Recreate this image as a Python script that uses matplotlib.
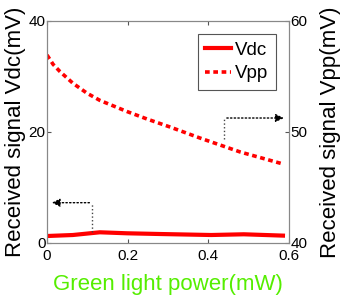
import matplotlib
matplotlib.use('Agg')
import matplotlib.pyplot as plt

plt.rcParams['font.family'] = ['Liberation Sans', 'DejaVu Sans']

# Vdc on left axis (mV)
power_dc = [0.0, 0.064, 0.131, 0.198, 0.280, 0.407, 0.488, 0.585]
vdc = [1.26, 1.44, 1.93, 1.75, 1.62, 1.44, 1.57, 1.33]

# Vpp on right axis (mV)
power_pp = [0.0, 0.015, 0.032, 0.064, 0.099, 0.131, 0.198, 0.248, 0.305, 0.379, 0.479, 0.585]
vpp = [56.94, 56.1, 55.45, 54.4, 53.5, 52.85, 51.85, 51.17, 50.45, 49.46, 48.20, 47.12]

xticks = [0, 0.2, 0.4, 0.6]
xticklabels = ['0', '0.2', '0.4', '0.6']
left_ticks = [0, 20, 40]
right_ticks = [40, 50, 60]

fig = plt.figure(figsize=(3.41, 3.06), dpi=100)
ax = fig.add_axes([47/341, 1 - 243/306, 242/341, 222/306])
ax2 = ax.twinx()

l1, = ax.plot(power_dc, vdc, color='red', lw=3, label='Vdc')
l2, = ax2.plot(power_pp, vpp, color='red', lw=2.6, ls=(0, (1.3, 1.0)), label='Vpp')

ax.set_xlim(0, 0.6)
ax.set_ylim(0, 40)
ax2.set_ylim(40, 60)
ax.set_xticks(xticks)
ax.set_xticklabels(xticklabels)
ax.set_yticks(left_ticks)
ax2.set_yticks(right_ticks)

for a in (ax, ax2):
    for s in a.spines.values():
        s.set_color('#888888')
    a.tick_params(direction='in', length=3, labelsize=11, color='#555555', pad=1)
ax.tick_params(axis='x', top=True, pad=4)
ax.set_zorder(ax2.get_zorder() + 1)
ax.patch.set_visible(False)

ax.set_xlabel('Green light power(mW)', fontsize=16, color='#55ee00', labelpad=8)
ax.set_ylabel('Received signal Vdc(mV)', fontsize=16, labelpad=2)
ax2.set_ylabel('Received signal Vpp(mV)', fontsize=16, labelpad=9)

# dotted indicator arrows
ax.plot([0.112, 0.112], [1.9, 7.26], color='#444444', ls=':', lw=1)
ax.annotate('', xy=(0.005, 7.26), xytext=(0.112, 7.26),
            arrowprops=dict(arrowstyle='-|>', ls=':', color='black', lw=1, mutation_scale=12))
ax2.plot([0.439, 0.439], [49.37, 51.26], color='#444444', ls=':', lw=1)
ax2.annotate('', xy=(0.594, 51.26), xytext=(0.439, 51.26),
             arrowprops=dict(arrowstyle='-|>', ls=':', color='black', lw=1, mutation_scale=12))

leg = ax.legend([l1, l2], ['Vdc', 'Vpp'], loc='upper right', fontsize=13.5,
                fancybox=False, framealpha=1, edgecolor='#555555',
                handlelength=1.4, handletextpad=0.2, borderpad=0.4,
                labelspacing=0.35, borderaxespad=0.7)
leg.get_frame().set_linewidth(0.8)

fig.savefig('out.png', dpi=100)
